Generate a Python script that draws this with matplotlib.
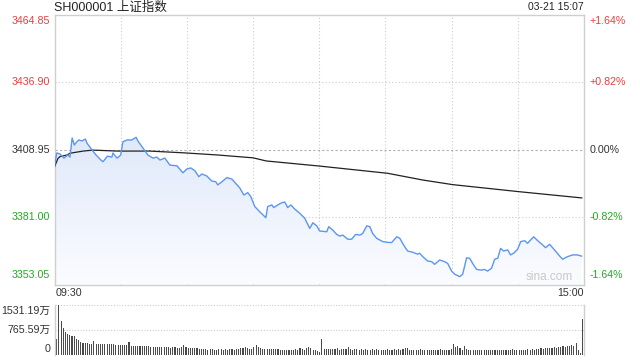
import numpy as np
import matplotlib
matplotlib.use("Agg")
import matplotlib.pyplot as plt
from matplotlib.colors import LinearSegmentedColormap

plt.rcParams['font.family'] = ['Liberation Sans', 'Noto Sans CJK SC', 'DejaVu Sans']

title = "SH000001 上证指数"
stamp = "03-21 15:07"
prev_close = 3408.95
price_ticks = [3464.85, 3436.90, 3408.95, 3381.00, 3353.05]
price_labels = ["3464.85", "3436.90", "3408.95", "3381.00", "3353.05"]
pct_labels = ["+1.64%", "+0.82%", "0.00%", "-0.82%", "-1.64%"]
time_labels = ["09:30", "15:00"]
watermark = "sina.com"

price_minutes = [0, 1, 2.5, 4.3, 6, 7, 8, 9, 10, 11,
                 12.5, 14, 14.7, 16, 17.4, 18.8, 20, 21, 22, 24,
                 26, 26.5, 28.3, 29, 30, 31, 32.8, 35, 37, 37.8,
                 40, 42.3, 44.6, 46.4, 47.8, 50, 52.3, 55.5, 58.2, 60,
                 61.8, 63.6, 65.4, 66.8, 69, 71.3, 73.1, 74, 75.9, 78.1,
                 80.4, 82.7, 84, 85.8, 87.6, 89, 90.8, 93, 95.8, 96.6,
                 98.5, 99.4, 101.2, 103, 104.4, 105.7, 107.1, 108.9, 111.2, 113.4,
                 115.7, 117.1, 118.9, 120.2, 123.4, 124.3, 126.1, 127.9, 129.3, 130.7,
                 132.9, 134.7, 136.5, 138.4, 139.7, 141.5, 142.9, 144.2, 146, 147.4,
                 148.8, 151, 152.8, 155.1, 156.5, 158.7, 160.1, 162.4, 164.6, 165.5,
                 166.9, 169.1, 171, 172.3, 174.6, 176.8, 178.2, 180, 181.4, 183.7,
                 185, 186.8, 188.2, 189.5, 191.3, 193.6, 194.9, 196.3, 198.1, 199.5,
                 200.9, 202.2, 203.6, 205.4, 206.7, 208.1, 209.9, 211.3, 213.1, 214.4,
                 217.2, 219, 220.8, 222.6, 224.4, 226.7, 229, 230.3, 232.6, 234.8,
                 237.1, 238.9]
price_values = [3401.8, 3407.5, 3407.1, 3405.4, 3406.7, 3405.8, 3413.7, 3410.8, 3412.0, 3412.9,
                3412.5, 3413.3, 3411.6, 3410.0, 3408.3, 3406.7, 3405.6, 3404.6, 3403.9, 3406.2,
                3405.8, 3407.5, 3405.4, 3405.8, 3406.7, 3412.1, 3412.9, 3412.9, 3414.0, 3412.5,
                3409.7, 3406.7, 3405.4, 3405.8, 3404.6, 3405.4, 3402.5, 3402.2, 3399.3, 3400.9,
                3401.3, 3400.2, 3397.7, 3398.8, 3398.0, 3395.9, 3395.6, 3394.3, 3395.6, 3397.3,
                3396.7, 3394.3, 3393.0, 3390.1, 3391.1, 3389.4, 3385.3, 3383.2, 3380.7, 3385.3,
                3386.0, 3384.9, 3386.0, 3386.9, 3387.2, 3384.9, 3386.0, 3384.3, 3382.5, 3380.5,
                3376.3, 3378.6, 3377.3, 3375.2, 3374.9, 3377.0, 3375.6, 3373.8, 3373.1, 3373.5,
                3371.8, 3371.8, 3373.8, 3373.5, 3374.2, 3377.3, 3377.0, 3374.2, 3372.2, 3371.5,
                3370.8, 3370.5, 3370.4, 3372.8, 3372.2, 3368.7, 3366.9, 3366.4, 3365.6, 3366.0,
                3364.6, 3362.8, 3362.5, 3361.4, 3363.2, 3362.5, 3361.8, 3358.6, 3357.3, 3356.3,
                3357.3, 3364.1, 3363.9, 3361.8, 3359.3, 3359.0, 3359.3, 3358.6, 3359.8, 3363.5,
                3363.9, 3368.0, 3366.9, 3367.4, 3365.3, 3366.0, 3367.6, 3370.8, 3371.2, 3370.1,
                3372.8, 3371.2, 3369.8, 3368.3, 3369.7, 3367.3, 3364.8, 3363.5, 3364.6, 3365.3,
                3365.3, 3364.8]

avg_minutes = [0, 1.6, 2.5, 5.7, 7, 13, 17.4, 28.3, 43, 58, 73.6, 90, 96, 120, 151, 167, 180.5, 210.4, 239]
avg_values = [3401.8, 3405.3, 3406.0, 3406.7, 3407.4, 3408.3, 3408.7, 3408.3, 3408.3, 3407.6,
              3406.7, 3405.5, 3404.2, 3402.1, 3399.1, 3396.3, 3394.4, 3391.5, 3388.9]

volume = [490, 1531, 1040, 836, 700, 640, 612, 590, 585, 480, 460, 400, 370, 357, 360, 350, 340, 428, 350, 340,
          345, 330, 350, 340, 335, 350, 327, 300, 310, 306, 300, 295, 306, 388, 290, 285, 280, 290, 285, 275,
          280, 285, 270, 260, 255, 250, 255, 240, 235, 230, 240, 230, 225, 235, 230, 220, 210, 250, 306, 240,
          215, 210, 205, 200, 210, 180, 175, 170, 175, 165, 170, 180, 165, 160, 175, 170, 165, 170, 160, 175,
          170, 160, 180, 185, 200, 210, 255, 200, 190, 185, 230, 306, 250, 200, 185, 190, 180, 185, 175, 190,
          180, 175, 160, 165, 155, 160, 150, 165, 160, 170, 160, 225, 180, 165, 200, 255, 210, 150, 140, 130,
          100, 490, 175, 180, 170, 185, 175, 180, 200, 160, 175, 170, 185, 230, 170, 160, 175, 180, 165, 170,
          160, 175, 155, 165, 170, 160, 175, 150, 155, 165, 160, 170, 155, 165, 175, 160, 170, 165, 180, 225,
          200, 155, 165, 150, 160, 155, 170, 165, 150, 160, 155, 165, 160, 150, 155, 170, 160, 150, 155, 165,
          170, 327, 240, 275, 200, 165, 285, 180, 160, 150, 155, 165, 150, 145, 155, 150, 160, 145, 155, 150,
          160, 155, 150, 165, 155, 160, 150, 165, 170, 155, 150, 160, 165, 150, 155, 175, 160, 170, 165, 180,
          175, 200, 195, 210, 205, 215, 200, 230, 225, 255, 240, 270, 260, 280, 265, 300, 290, 357, 140, 60, 1100]
vol_ticks = [1531.19, 765.59, 0]
vol_labels = ["1531.19万", "765.59万", "0"]

RED = '#f03c3c'
GREEN = '#22aa22'
DARK = '#333333'
FRAME = '#cfcfcf'
GRID = '#cccccc'
W, H = 640, 360

fig = plt.figure(figsize=(6.4, 3.6), dpi=100)
fig.patch.set_facecolor('white')

x0, x1 = 54.5, 584.0
ax = fig.add_axes([x0 / W, 1 - 284.5 / H, (x1 - x0) / W, 270 / H])
ymin, ymax = price_ticks[-1], price_ticks[0]
ax.set_xlim(0, 240)
ax.set_ylim(ymin, ymax)

# gradient fill under price line
poly = ax.fill_between(price_minutes, price_values, ymin, color='none', lw=0)
cmap = LinearSegmentedColormap.from_list('g', ['#fbfcff', '#e0e9fa'])
grad = np.linspace(0, 1, 256).reshape(-1, 1)
im = ax.imshow(grad, extent=[0, 240, ymin, max(price_values)], aspect='auto',
               cmap=cmap, origin='lower', zorder=1)
im.set_clip_path(poly.get_paths()[0], transform=ax.transData)

# grid
for t in range(30, 240, 30):
    ax.axvline(t, color=GRID, lw=0.8, ls=(0, (1, 2)), zorder=0.5)
for v in [price_ticks[1], price_ticks[3]]:
    ax.axhline(v, color=GRID, lw=0.8, ls=(0, (1, 2)), zorder=0.5)
ax.axhline(prev_close, color='#b0b0b0', lw=0.8, ls=(0, (2, 2)), zorder=0.5)

ax.plot(avg_minutes, avg_values, color='#222222', lw=0.9, zorder=3)
ax.plot(price_minutes, price_values, color='#5b97ee', lw=1.0, zorder=4)

ax.set_xticks([])
ax.set_yticks([])
for s in ax.spines.values():
    s.set_color(FRAME)
    s.set_linewidth(1.0)

fs = 7.7
cols = [RED, RED, DARK, GREEN, GREEN]
vas = ['top', 'center', 'center', 'center', 'bottom']
offs = [-1, 0, 0, 0, 3]
for v, lab, pl, c, va, o in zip(price_ticks, price_labels, pct_labels, cols, vas, offs):
    ax.annotate(lab, (0, v), xytext=(-3, o), textcoords='offset points', ha='right', va=va,
                color=c, fontsize=fs, annotation_clip=False)
    ax.annotate(pl, (240, v), xytext=(4, o), textcoords='offset points', ha='left', va=va,
                color=c, fontsize=fs, annotation_clip=False)

ax.text(234.8, ymin + 0.6, watermark, ha='right', va='bottom', color='#c8c8c8', fontsize=8.5, zorder=5)

fig.text(x0 / W, 1 - 7.5 / H, title, ha='left', va='center', fontsize=9, color='#222222')
fig.text(x1 / W, 1 - 7.5 / H, stamp, ha='right', va='center', fontsize=7.5, color='#222222')
fig.text(x0 / W + 1 / W, 1 - 293 / H, time_labels[0], ha='left', va='center', fontsize=fs, color=DARK)
fig.text(x1 / W, 1 - 293 / H, time_labels[1], ha='right', va='center', fontsize=fs, color=DARK)

# volume panel
vax = fig.add_axes([x0 / W, 1 - 355 / H, (x1 - x0) / W, 50 / H])
vax.set_xlim(-1.0, 240.6)
vax.set_ylim(0, vol_ticks[0])
vax.bar(np.arange(len(volume)), volume, width=0.5, color='#4a4a4a', lw=0, zorder=2)
for v in vol_ticks[:2]:
    vax.axhline(v, color=GRID, lw=0.8, ls=(0, (1, 1.5)), zorder=0.5, clip_on=False)
vax.set_xticks([])
vax.set_yticks([])
for k in ['top', 'bottom']:
    vax.spines[k].set_visible(False)
for k in ['left', 'right']:
    vax.spines[k].set_color(FRAME)
    vax.spines[k].set_linewidth(1.0)
vvas = ['top', 'center', 'bottom']
voffs = [-1, 0, 1]
for v, lab, va, o in zip(vol_ticks, vol_labels, vvas, voffs):
    vax.annotate(lab, (-1.0, v), xytext=(-3, o), textcoords='offset points', ha='right', va=va,
                 color=DARK, fontsize=fs, annotation_clip=False)

fig.savefig('out.png', dpi=100, facecolor='white')
